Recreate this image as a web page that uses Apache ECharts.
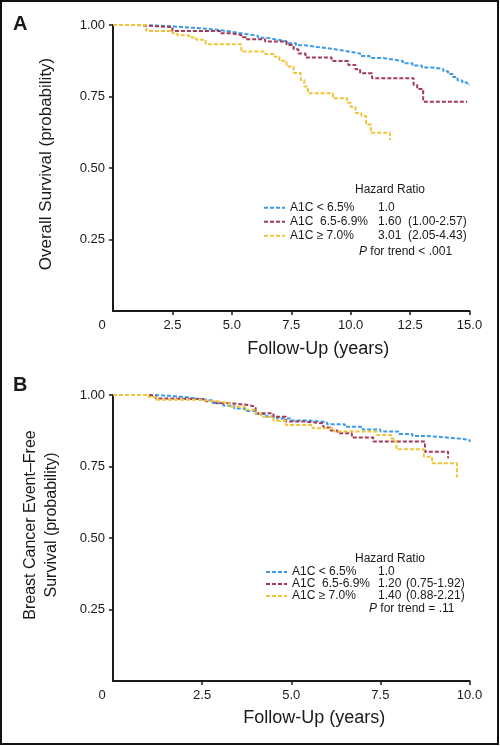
<!DOCTYPE html>
<html>
<head>
<meta charset="utf-8">
<script src="https://cdn.jsdelivr.net/npm/echarts@6/dist/echarts.min.js"></script>
<style>
html,body{margin:0;padding:0;background:#fff;}
#chart{width:500px;height:746px;}
</style>
</head>
<body>
<div id="chart"></div>
<script>
// ---------- Data ----------
const groupNames = ['A1C < 6.5%', 'A1C  6.5-6.9%', 'A1C \u2265 7.0%'];

// Panel A: Overall survival, [years, probability]
const survA_low = [[0,1],[1.2,0.998],[1.8,0.996],[2.4,0.993],[2.9,0.99],[3.4,0.987],[3.9,0.983],[4.4,0.978],[4.9,0.972],[5.3,0.967],[5.7,0.962],[6.1,0.955],[6.5,0.949],[6.9,0.943],[7.3,0.936],[7.7,0.929],[8.1,0.923],[8.6,0.918],[9.1,0.912],[9.6,0.906],[10.0,0.9],[10.4,0.892],[10.8,0.885],[11.3,0.879],[11.8,0.874],[12.2,0.866],[12.6,0.858],[13.0,0.851],[13.5,0.846],[13.9,0.838],[14.1,0.829],[14.3,0.818],[14.5,0.806],[14.7,0.799],[14.9,0.792],[15.0,0.79]];
const survA_mid = [[0,1],[1.0,0.997],[1.5,0.993],[2.5,0.979],[4.5,0.971],[5.0,0.965],[5.4,0.957],[5.6,0.95],[6.4,0.942],[7.3,0.93],[7.6,0.915],[7.8,0.9],[8.1,0.886],[9.2,0.874],[9.9,0.86],[10.2,0.845],[10.4,0.831],[10.9,0.814],[12.65,0.79],[12.8,0.776],[13.05,0.732],[14.9,0.732]];
const survA_high = [[0,1],[1.4,0.979],[2.5,0.971],[2.7,0.964],[3.2,0.957],[3.5,0.948],[3.9,0.933],[5.4,0.907],[6.4,0.899],[6.8,0.889],[7.0,0.875],[7.3,0.855],[7.6,0.832],[7.9,0.808],[8.05,0.785],[8.2,0.761],[9.25,0.744],[9.85,0.728],[10.0,0.714],[10.2,0.692],[10.45,0.682],[10.65,0.652],[10.85,0.623],[11.65,0.598]];

// Panel B: Breast cancer event-free survival
const survB_low = [[0,1],[0.8,0.999],[1.3,0.997],[1.6,0.993],[2.0,0.987],[2.4,0.981],[2.8,0.972],[3.1,0.962],[3.4,0.953],[3.7,0.944],[4.0,0.934],[4.3,0.925],[4.6,0.918],[5.0,0.911],[5.5,0.905],[6.0,0.898],[6.5,0.889],[7.0,0.879],[7.5,0.872],[8.0,0.864],[8.4,0.857],[8.8,0.853],[9.2,0.849],[9.6,0.843],[10.0,0.836]];
const survB_mid = [[0,1],[1.0,0.997],[1.2,0.988],[1.6,0.985],[2.6,0.978],[2.9,0.971],[3.3,0.965],[3.8,0.959],[4.0,0.936],[4.5,0.924],[4.85,0.907],[5.4,0.901],[5.9,0.886],[6.1,0.876],[6.3,0.866],[6.7,0.851],[7.3,0.837],[8.75,0.802],[9.4,0.779]];
const survB_high = [[0,1],[1.0,0.993],[1.2,0.983],[2.4,0.977],[3.0,0.971],[3.25,0.959],[3.7,0.948],[4.0,0.935],[4.15,0.924],[4.5,0.91],[4.85,0.895],[5.6,0.884],[6.2,0.872],[7.4,0.86],[7.8,0.848],[7.87,0.837],[7.95,0.81],[8.72,0.784],[8.95,0.761],[9.65,0.712]];

const hrA = ['1.0', '1.60', '3.01'];
const ciA = ['', '(1.00-2.57)', '(2.05-4.43)'];
const hrB = ['1.0', '1.20', '1.40'];
const ciB = ['', '(0.75-1.92)', '(0.88-2.21)'];

const xTicksA = [0, 2.5, 5.0, 7.5, 10.0, 12.5, 15.0];
const xTicksB = [0, 2.5, 5.0, 7.5, 10.0];
const yTicks = [0.25, 0.50, 0.75, 1.00];

const colors = ['#3b9ae8', '#a33a58', '#f0c43a'];
const FONT = '"Liberation Sans", Arial, Helvetica, sans-serif';
const INK = '#1a1a1a';

// ---------- Chart ----------
const chart = echarts.init(document.getElementById('chart'), null, {renderer: 'canvas'});

function xAxisCfg(gridIndex, maxV, ticks, nameGap, padLeft) {
  return {
    type: 'value', gridIndex: gridIndex, min: 0, max: maxV, interval: 2.5,
    name: 'Follow-Up (years)', nameLocation: 'middle', nameGap: nameGap,
    nameTextStyle: {fontSize: 18, color: INK, fontFamily: FONT, padding: [0, 0, 0, padLeft]},
    axisLine: {show: true, onZero: false, lineStyle: {color: INK, width: 2}},
    axisTick: {show: true, length: 4, lineStyle: {color: INK, width: 1.5}, customValues: ticks.slice(1)},
    splitLine: {show: false},
    axisLabel: {
      fontSize: 13, color: INK, fontFamily: FONT, margin: 8, customValues: ticks,
      formatter: function (v) { return v === 0 ? '{o|0}' : v.toFixed(1); },
      rich: {o: {fontSize: 13, color: INK, fontFamily: FONT, padding: [0, 22, 0, 0]}}
    }
  };
}
function yAxisCfg(gridIndex, name, fontSize, nameGap, pad, lineHeight) {
  return {
    type: 'value', gridIndex: gridIndex, min: 0, max: 1, interval: 0.25,
    name: name, nameLocation: 'middle', nameGap: nameGap,
    nameTextStyle: {fontSize: fontSize, color: INK, fontFamily: FONT, padding: pad, lineHeight: lineHeight},
    axisLine: {show: true, onZero: false, lineStyle: {color: INK, width: 2}},
    axisTick: {show: true, length: 4, lineStyle: {color: INK, width: 1.5}, customValues: yTicks},
    splitLine: {show: false},
    axisLabel: {
      fontSize: 13, color: INK, fontFamily: FONT, margin: 8, customValues: yTicks,
      formatter: function (v) { return v.toFixed(2); }
    }
  };
}
function seriesCfg(name, data, idx, axisIdx) {
  return {
    type: 'line', name: name, step: 'end', symbol: 'none', data: data,
    xAxisIndex: axisIdx, yAxisIndex: axisIdx, silent: true, animation: false,
    lineStyle: {color: colors[idx], width: 2, type: [4, 2]},
    itemStyle: {color: colors[idx]}
  };
}
function legendCfg(left, top, lh, wName, wHr, hr, ci) {
  return {
    orient: 'vertical', left: left, top: top, itemWidth: 21, itemHeight: 10, itemGap: 0,
    padding: 0, selectedMode: false, data: groupNames,
    itemStyle: {opacity: 0, color: 'rgba(0,0,0,0)', borderWidth: 0},
    formatter: function (name) {
      const i = groupNames.indexOf(name);
      return '{n|' + name + '}{h|' + hr[i] + '}{c|' + ci[i] + '}';
    },
    textStyle: {
      fontSize: 12, color: INK, fontFamily: FONT, lineHeight: lh,
      rich: {
        n: {width: wName, fontSize: 12, color: INK, fontFamily: FONT, lineHeight: lh},
        h: {width: wHr, fontSize: 12, color: INK, fontFamily: FONT, lineHeight: lh},
        c: {fontSize: 12, color: INK, fontFamily: FONT, lineHeight: lh}
      }
    }
  };
}
function txt(x, y, text, size, extra) {
  return {
    type: 'text', x: x, y: y, silent: true,
    style: Object.assign({text: text, fontSize: size, fontFamily: FONT, fill: INK, verticalAlign: 'middle', align: 'left'}, extra || {})
  };
}

const option = {
  backgroundColor: '#fff',
  animation: false,
  grid: [
    {left: 113, right: 30.5, top: 25, height: 286},
    {left: 113, right: 30.5, top: 395, height: 286}
  ],
  xAxis: [xAxisCfg(0, 15, xTicksA, 29, 54), xAxisCfg(1, 10, xTicksB, 28, 46)],
  yAxis: [
    yAxisCfg(0, 'Overall Survival (probability)', 17, 57, [0, 0, 0, 8], 20),
    yAxisCfg(1, 'Breast Cancer Event\u2013Free\nSurvival (probability)', 16, 51, [0, 0, 0, 26], 21)
  ],
  legend: [
    legendCfg(263, 200.7, 14, 88, 30, hrA, ciA),
    legendCfg(265, 566, 12, 86, 28, hrB, ciB)
  ],
  series: [
    seriesCfg(groupNames[0], survA_low, 0, 0),
    seriesCfg(groupNames[1], survA_mid, 1, 0),
    seriesCfg(groupNames[2], survA_high, 2, 0),
    seriesCfg(groupNames[0], survB_low, 0, 1),
    seriesCfg(groupNames[1], survB_mid, 1, 1),
    seriesCfg(groupNames[2], survB_high, 2, 1)
  ],
  graphic: [
    {type: 'rect', silent: true, shape: {x: 1, y: 1, width: 497, height: 743}, style: {fill: 'none', stroke: '#111', lineWidth: 2}},
    txt(13, 24, 'A', 20, {fontWeight: 'bold'}),
    txt(13, 385, 'B', 20, {fontWeight: 'bold'}),
    txt(355, 190, 'Hazard Ratio', 12),
    txt(359, 251.7, '{i|P} for trend < .001', 12, {rich: {i: {fontStyle: 'italic', fontSize: 12, fontFamily: FONT, fill: INK}}}),
    txt(355, 559, 'Hazard Ratio', 12),
    txt(369, 609, '{i|P} for trend = .11', 12, {rich: {i: {fontStyle: 'italic', fontSize: 12, fontFamily: FONT, fill: INK}}})
  ]
};
chart.setOption(option);
</script>
</body>
</html>
